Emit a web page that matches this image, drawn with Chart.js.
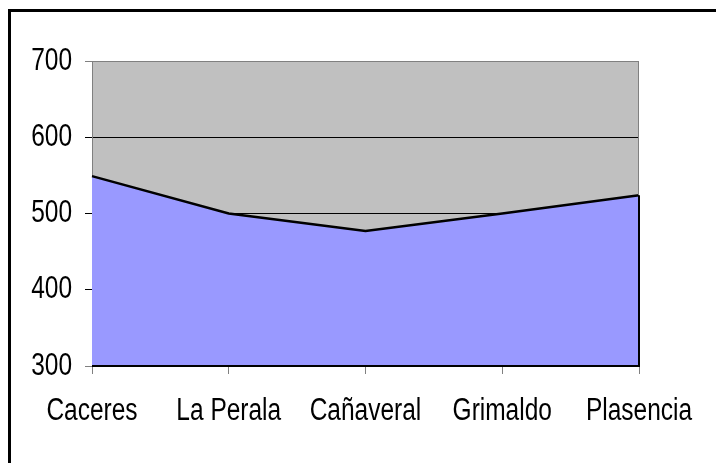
<!DOCTYPE html>
<html>
<head>
<meta charset="utf-8">
<script src="https://cdn.jsdelivr.net/npm/chart.js@4.4.1/dist/chart.umd.min.js"></script>
<style>
  html, body { margin: 0; padding: 0; background: #fff; }
  #wrap { width: 716px; height: 463px; position: relative; }
</style>
</head>
<body>
<div id="wrap"><canvas id="areaChart" width="716" height="463"></canvas></div>
<script>
const towns = ["Caceres", "La Perala", "Cañaveral", "Grimaldo", "Plasencia"];
const values = [549, 500, 477, 500, 524];
const yTicks = [300, 400, 500, 600, 700];

// the original uses a narrow Arial; no narrow font here, so squeeze Liberation Sans
const labelFont = "31px 'Liberation Sans', Arial, sans-serif";
const squeeze = 0.79;

function drawNarrow(c, text, x, y, align) {
  c.save();
  c.translate(x, y);
  c.scale(squeeze, 1);
  c.textAlign = align;
  c.textBaseline = "middle";
  c.fillText(text, 0, 0);
  c.restore();
}

const excelLook = {
  id: "excelLook",
  beforeDraw(chart) {
    const { ctx, chartArea: a } = chart;
    ctx.save();
    ctx.strokeStyle = "#000";
    ctx.lineWidth = 3;
    ctx.strokeRect(9.5, 10.5, 740, 480);
    ctx.fillStyle = "#c0c0c0";
    ctx.fillRect(a.left, a.top, a.right - a.left, a.bottom - a.top);
    ctx.restore();
  },
  afterDatasetsDraw(chart) {
    // Excel draws the series border all around the area
    const { ctx, chartArea: a } = chart;
    const pts = chart.getDatasetMeta(0).data;
    const last = pts[pts.length - 1];
    ctx.save();
    ctx.strokeStyle = "#808080";
    ctx.lineWidth = 1;
    ctx.beginPath();
    ctx.moveTo(a.left, a.top + 0.5);
    ctx.lineTo(a.right, a.top + 0.5);
    ctx.moveTo(a.right - 0.5, a.top);
    ctx.lineTo(a.right - 0.5, last.y);
    ctx.stroke();
    ctx.strokeStyle = "#000";
    ctx.lineWidth = 2;
    ctx.beginPath();
    ctx.moveTo(last.x, last.y);
    ctx.lineTo(last.x, a.bottom);
    ctx.lineTo(a.left, a.bottom);
    ctx.stroke();
    ctx.restore();
  },
  afterDraw(chart) {
    const { ctx, scales } = chart;
    ctx.save();
    ctx.fillStyle = "#000";
    ctx.font = labelFont;
    yTicks.forEach((v) => {
      drawNarrow(ctx, String(v), 72, scales.y.getPixelForValue(v), "right");
    });
    towns.forEach((t, i) => {
      drawNarrow(ctx, t, scales.x.getPixelForValue(i), scales.x.top + 45, "center");
    });
    ctx.restore();
  }
};

new Chart(document.getElementById("areaChart").getContext("2d"), {
  type: "line",
  data: {
    labels: towns,
    datasets: [
      {
        data: values,
        borderColor: "#000",
        borderWidth: 2.5,
        backgroundColor: "#9999ff",
        fill: "start",
        tension: 0,
        pointRadius: 0,
      },
    ],
  },
  options: {
    responsive: false,
    animation: false,
    layout: { padding: { left: 85, right: 77, top: 61, bottom: 89 } },
    plugins: { legend: { display: false }, tooltip: { enabled: false } },
    scales: {
      x: {
        offset: false,
        grid: { drawOnChartArea: false, color: "#808080", tickLength: 8 },
        border: { display: false },
        ticks: { display: false },
      },
      y: {
        min: 300,
        max: 700,
        afterBuildTicks(axis) { axis.ticks = yTicks.map(v => ({ value: v })); },
        grid: {
          color: (ctx) => (ctx.tick && (ctx.tick.value === 700 || ctx.tick.value === 300)) ? "#808080" : "#000",
          tickLength: 7,
        },
        border: { color: "#808080", width: 1 },
        ticks: { display: false },
      },
    },
  },
  plugins: [excelLook],
});
</script>
</body>
</html>
